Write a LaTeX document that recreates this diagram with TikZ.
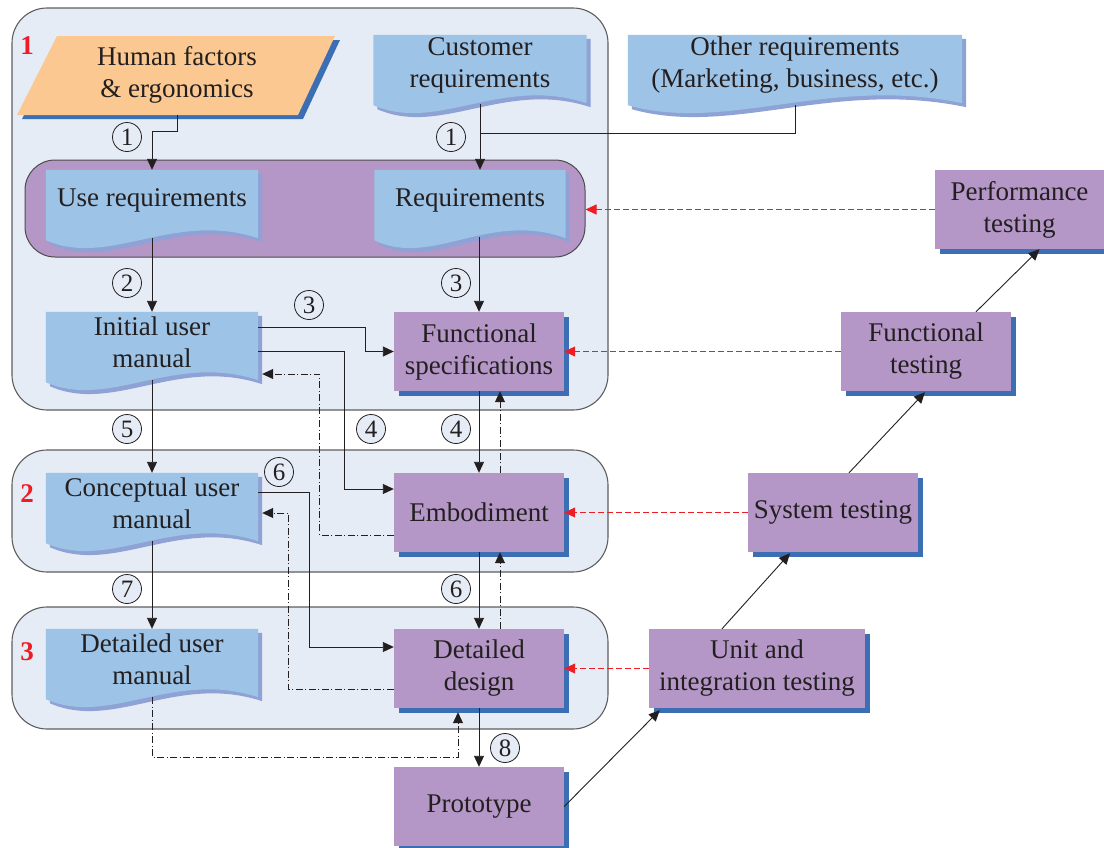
\documentclass[tikz,border=0pt]{standalone}
\usepackage{fontspec}
\setmainfont{Liberation Serif}
\usetikzlibrary{arrows.meta,calc,shadows}
\pgfdeclarelayer{back}
\pgfdeclarelayer{mid}
\pgfsetlayers{back,mid,main}
\definecolor{contfill}{HTML}{E6ECF6}
\definecolor{contdraw}{HTML}{5E5E5E}
\definecolor{purp}{HTML}{B497C6}
\definecolor{boxsh}{HTML}{3C6EB4}
\definecolor{docfill}{HTML}{9DC3E6}
\definecolor{docsh}{HTML}{8EA2D5}
\definecolor{orng}{HTML}{FAC890}
\definecolor{ink}{HTML}{231F20}
\definecolor{redc}{HTML}{EE1C25}
\newcommand\fsz{\fontsize{27}{32}\selectfont}
\newcommand\csz{\fontsize{25}{28}\selectfont}
\newcommand\docshape[1]{%
 \fill[docsh] ($(#1.north west)+(4,4)$) -- ($(#1.north east)+(4,4)$) -- ($(#1.south east)+(4,12)$)
   .. controls ($(#1.south west)!0.6!(#1.south east)+(4,-16)$) and ($(#1.south west)!0.3!(#1.south east)+(4,42)$) .. ($(#1.south west)+(4,14)$) -- cycle;
 \fill[docfill] (#1.north west) -- (#1.north east) -- ($(#1.south east)+(0,8)$)
   .. controls ($(#1.south west)!0.6!(#1.south east)+(0,-20)$) and ($(#1.south west)!0.3!(#1.south east)+(0,38)$) .. ($(#1.south west)+(0,10)$) -- cycle;
}
\tikzset{
 txt/.style={font=\fsz, text=ink, align=center, inner sep=0pt},
 docnode/.style={txt, minimum height=60pt, minimum width=#1},
 pbox/.style={txt, fill=purp, minimum height=79pt, minimum width=#1,
   drop shadow={shadow xshift=5pt, shadow yshift=-5pt, fill=boxsh, opacity=1}},
 cont/.style={draw=contdraw, fill=contfill, line width=1.1pt, rounded corners=35pt, inner sep=0pt},
 grpbox/.style={draw=contdraw!80!black, fill=purp, line width=1pt, rounded corners=30pt, inner sep=0pt},
 cnum/.style={circle, draw=ink, fill=contfill, line width=0.8pt, minimum size=29pt, inner sep=0pt, font=\csz, text=ink},
 rednum/.style={font=\fsz\bfseries, text=redc, inner sep=0pt},
 plain/.style={draw=ink, line width=0.9pt},
 arr/.style={draw=ink, line width=0.9pt, -{Triangle[length=11pt,width=10pt]}},
 dda/.style={arr, dash pattern=on 7pt off 2.5pt on 1pt off 2.5pt},
 redarr/.style={draw=redc, line width=0.9pt, dash pattern=on 6pt off 3pt, -{Triangle[length=11pt,width=10pt]}},
}
\begin{document}
\begin{tikzpicture}[x=1pt,y=-1pt]
\useasboundingbox (0,0) rectangle (1104,847);
\begin{pgfonlayer}{back}
 \fill[white] (0,0) rectangle (1104,847);
 \node[cont, minimum width=596pt, minimum height=402pt] (c1) at (310,209) {};
 \node[cont, minimum width=596pt, minimum height=122pt] (c2) at (310,511) {};
 \node[cont, minimum width=596pt, minimum height=122pt] (c3) at (310,668) {};
 \node[grpbox, minimum width=560pt, minimum height=97pt] (grp) at (305,208.5) {};
\end{pgfonlayer}

% red stage numbers
\node[rednum] (l1) at (27,46) {1};
\node[rednum] (l2) at (27,494) {2};
\node[rednum] (l3) at (27,652) {3};

% input / document nodes
\node[txt, minimum height=79pt, minimum width=200pt] (hf) at (177,75) {Human factors\\\& ergonomics};
\node[docnode=213pt] (cr) at (480,65) {Customer\\requirements};
\node[docnode=334pt] (or) at (795,65) {Other requirements\\(Marketing, business, etc.)};
\node[docnode=212pt] (ur) at (152,200) {Use requirements};
\node[docnode=191pt] (rq) at (470,200) {Requirements};
\node[docnode=212pt] (ium) at (152,342) {Initial user\\manual};
\node[docnode=212pt] (cum) at (152,503) {Conceptual user\\manual};
\node[docnode=212pt] (dum) at (152,659) {Detailed user\\manual};

\begin{pgfonlayer}{mid}
 \fill[boxsh] (62,40) -- (340,40) -- (303,119) -- (22,119) -- cycle;
 \fill[orng] (57,36) -- (335,36) -- (298,115) -- (17,115) -- cycle;
 \docshape{cr}
 \docshape{or}
 \docshape{ur}
 \docshape{rq}
 \docshape{ium}
 \docshape{cum}
 \docshape{dum}
\end{pgfonlayer}

% process boxes
\node[pbox=170pt] (fs) at (479,351.5) {Functional\\specifications};
\node[pbox=170pt] (emb) at (479,512.5) {Embodiment};
\node[pbox=170pt] (dd) at (479,668.5) {Detailed\\design};
\node[pbox=170pt] (pr) at (479,806.5) {Prototype};
\node[pbox=169pt] (pt) at (1019.5,209.5) {Performance\\testing};
\node[pbox=170pt] (ft) at (926,351.5) {Functional\\testing};
\node[pbox=170pt] (st) at (833,512.5) {System testing};
\node[pbox=216pt] (uit) at (757,668.5) {Unit and\\integration testing};

% connectors
\coordinate (j1) at (480,133);
\draw[arr] (hf.south) -- ++(0,17) -| (ur.north);
\draw[arr] ($(cr.south)+(0,9)$) -- (cr.south |- rq.north);
\draw[plain] ($(or.south)+(0,10)$) |- (j1);
\draw[arr] ($(ur.south)+(0,8)$) -- (ium.north);
\draw[arr] ($(fs.north |- rq.south)+(0,7)$) -- (fs.north);
\draw[arr] ($(ium.east)+(0,-15)$) -- ++(107,0) |- (fs.west);
\draw[arr] ($(ium.east)+(0,9)$) -- ++(86,0) |- ($(emb.west)+(0,-23.5)$);
\draw[arr] (fs.south) -- (emb.north);
\draw[dda] ($(emb.north)+(21,0)$) -- ($(fs.south)+(21,0)$);
\draw[dda] ($(emb.west)+(0,22.5)$) -- ++(-74,0) |- ($(ium.east)+(4,32)$);
\draw[arr] ($(ium.south)+(0,8)$) -- (cum.north);
\draw[arr] ($(cum.east)+(0,-10.5)$) -- ++(51,0) |- ($(dd.west)+(0,-21.5)$);
\draw[dda] ($(dd.west)+(0,21)$) -- ++(-105,0) |- ($(cum.east)+(4,10)$);
\draw[arr] (emb.south) -- (dd.north);
\draw[dda] ($(dd.north)+(21,0)$) -- ($(emb.south)+(21,0)$);
\draw[arr] ($(cum.south)+(0,8)$) -- (dum.north);
\draw[dda] ($(dum.south)+(0,8)$) -- ++(0,60) -| ($(dd.south)+(-21,4)$);
\draw[arr] (dd.south) -- (pr.north);
\draw[arr] (pr.east) -- ($(uit.south west)+(11,2)$);
\draw[arr] ($(uit.north)+(-35,0)$) -- ($(st.south)+(-43,1)$);
\draw[arr] ($(st.north)+(16,0)$) -- ($(ft.south)+(-1,1)$);
\draw[arr] ($(ft.north)+(50,0)$) -- ($(pt.south)+(20,0)$);

\draw[redarr] (pt.west) -- (pt.west -| grp.east);
\draw[redarr] (ft.west) -- (ft.west -| fs.east);
\draw[redarr] (st.west) -- (st.west -| emb.east);
\draw[redarr] (uit.west) -- (uit.west -| dd.east);

% circled step numbers
\node[cnum] (s1a) at (127,137) {1};
\node[cnum] (s1b) at (451,137) {1};
\node[cnum] (s2) at (127,283) {2};
\node[cnum] (s3a) at (456,283) {3};
\node[cnum] (s3b) at (309,305) {3};
\node[cnum] (s5) at (127,429) {5};
\node[cnum] (s4a) at (371,429) {4};
\node[cnum] (s4b) at (456,429) {4};
\node[cnum] (s6a) at (279,472) {6};
\node[cnum] (s7) at (127,589) {7};
\node[cnum] (s6b) at (456,589) {6};
\node[cnum] (s8) at (505,748) {8};
\end{tikzpicture}
\end{document}
